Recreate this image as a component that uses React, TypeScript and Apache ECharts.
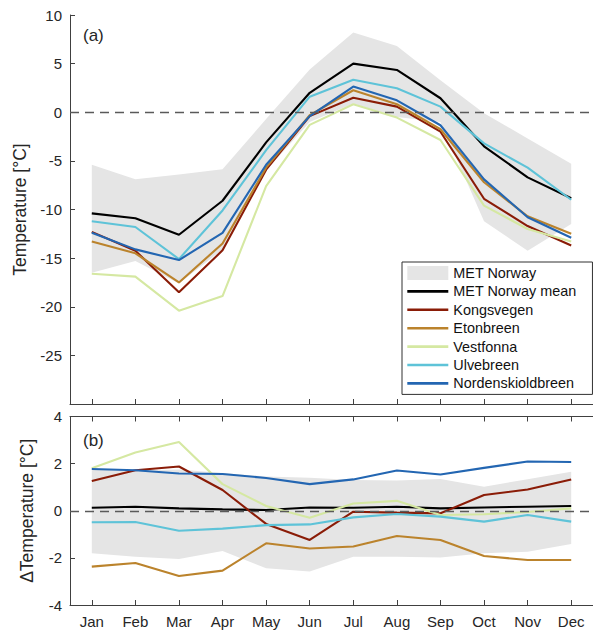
import React, { useEffect, useRef } from "react";
import * as echarts from "echarts";

const months = ["Jan", "Feb", "Mar", "Apr", "May", "Jun", "Jul", "Aug", "Sep", "Oct", "Nov", "Dec"];

// Panel (a): temperature [°C]
const metUpperA = [-5.4, -6.9, -6.4, -5.85, -0.7, 4.4, 8.2, 6.8, 3.3, -0.1, -2.7, -5.3];
const metLowerA = [-16.5, -15.3, -17.6, -14.1, -6.0, -1.0, 0.9, -0.5, -1.0, -11.2, -14.25, -11.5];
const metMeanA = [-10.4, -10.9, -12.6, -9.1, -3.1, 2.0, 5.0, 4.35, 1.44, -3.5, -6.7, -8.85];
const kongsvegenA = [-12.3, -14.25, -18.5, -14.2, -5.9, -0.4, 1.5, 0.58, -2.0, -8.9, -11.7, -13.7];
const etonbreenA = [-13.3, -14.5, -17.5, -13.5, -5.7, -0.3, 2.26, 0.82, -1.75, -7.2, -10.7, -12.5];
const vestfonnaA = [-16.6, -16.9, -20.4, -18.9, -7.6, -1.3, 0.82, -0.55, -2.85, -9.6, -12.0, -13.3];
const ulvebreenA = [-11.2, -11.8, -15.1, -10.1, -3.9, 1.6, 3.35, 2.47, 0.58, -3.2, -5.7, -9.0];
const nordenA = [-12.4, -14.1, -15.2, -12.4, -5.4, -0.4, 2.64, 1.23, -1.34, -6.9, -10.8, -12.9];

// Panel (b): ΔTemperature [°C]
const metUpperB = [1.75, 1.7, 1.75, 1.6, 1.45, 1.4, 1.3, 1.28, 1.35, 1.02, 1.34, 1.65];
const metLowerB = [-1.8, -1.95, -2.05, -1.71, -2.44, -2.58, -1.95, -1.95, -1.98, -1.8, -1.74, -1.41];
const metMeanB = [0.13, 0.17, 0.1, 0.06, 0.03, 0.14, 0.13, 0.17, 0.1, 0.14, 0.17, 0.2];
const kongsvegenB = [1.26, 1.72, 1.88, 0.88, -0.56, -1.24, -0.04, -0.08, -0.11, 0.67, 0.9, 1.33];
const etonbreenB = [-2.37, -2.22, -2.77, -2.54, -1.38, -1.6, -1.52, -1.07, -1.24, -1.92, -2.09, -2.09];
const vestfonnaB = [1.8, 2.47, 2.92, 1.13, 0.2, -0.3, 0.31, 0.42, -0.18, -0.15, -0.05, 0.1];
const ulvebreenB = [-0.49, -0.48, -0.85, -0.76, -0.61, -0.58, -0.28, -0.14, -0.25, -0.46, -0.18, -0.46];
const nordenB = [1.77, 1.72, 1.58, 1.56, 1.39, 1.13, 1.33, 1.71, 1.54, 1.82, 2.09, 2.07];

const yTicksA = [10, 5, 0, -5, -10, -15, -20, -25];
const yTicksB = [4, 2, 0, -2, -4];

const FONT = "'Liberation Sans', Arial, Helvetica, sans-serif";
const TXT = "#262626";
const AXC = "#404040";
const BAND = "#e5e5e5";

const lineDefs = [
  { name: "MET Norway mean", color: "#000000", a: metMeanA, b: metMeanB },
  { name: "Kongsvegen", color: "#8a1c07", a: kongsvegenA, b: kongsvegenB },
  { name: "Etonbreen", color: "#bb832c", a: etonbreenA, b: etonbreenB },
  { name: "Vestfonna", color: "#d5e8a2", a: vestfonnaA, b: vestfonnaB },
  { name: "Ulvebreen", color: "#5ec3d8", a: ulvebreenA, b: ulvebreenB },
  { name: "Nordenskioldbreen", color: "#2366b2", a: nordenA, b: nordenB },
];

function zeroLine() {
  return {
    silent: true,
    symbol: ["none", "none"],
    label: { show: false },
    lineStyle: { color: "#5a5a5a", width: 1.4, type: [9, 6] },
    data: [{ yAxis: 0 }],
  };
}

function catAxis(gridIndex: number, position: string, showLabels: boolean) {
  return {
    type: "category",
    gridIndex,
    position,
    data: months,
    boundaryGap: true,
    axisLine: { show: true, onZero: false, lineStyle: { color: AXC, width: 1 } },
    axisTick: { show: true, inside: true, length: 5, alignWithLabel: true, interval: 0, lineStyle: { color: AXC } },
    axisLabel: { show: showLabels, interval: 0, margin: 9, color: TXT, fontSize: 15, fontFamily: FONT },
    splitLine: { show: false },
  };
}

function valAxis(gridIndex: number, min: number, max: number, interval: number, ticks: number[], name: string) {
  return {
    type: "value",
    gridIndex,
    min,
    max,
    interval,
    name,
    nameLocation: "middle",
    nameGap: 34,
    nameTextStyle: { color: TXT, fontSize: 17.5, fontFamily: FONT },
    axisLine: { show: true, onZero: false, lineStyle: { color: AXC, width: 1 } },
    axisTick: { show: true, inside: true, length: 5, lineStyle: { color: AXC } },
    axisLabel: {
      color: TXT,
      fontSize: 15,
      fontFamily: FONT,
      margin: 8,
      formatter: (v: number) => (ticks.indexOf(v) >= 0 ? String(v) : ""),
    },
    splitLine: { show: false },
  };
}

function bandSeries(lower: number[], upper: number[], xIdx: number, yIdx: number, stackId: string) {
  return [
    {
      name: "band-lower-" + stackId,
      type: "line",
      xAxisIndex: xIdx,
      yAxisIndex: yIdx,
      data: lower,
      stack: stackId,
      stackStrategy: "all",
      symbol: "none",
      silent: true,
      lineStyle: { width: 0 },
      z: 1,
      markLine: zeroLine(),
    },
    {
      name: "MET Norway",
      type: "line",
      xAxisIndex: xIdx,
      yAxisIndex: yIdx,
      data: upper.map((u, i) => u - lower[i]),
      stack: stackId,
      stackStrategy: "all",
      symbol: "none",
      silent: true,
      color: BAND,
      itemStyle: { color: BAND },
      lineStyle: { width: 0 },
      areaStyle: { color: BAND, opacity: 1 },
      z: 1,
    },
  ];
}

export default function App() {
  const ref = useRef<HTMLDivElement>(null);
  useEffect(() => {
    if (!ref.current) return;
    const chart = echarts.init(ref.current, null, { renderer: "svg" });
    const series: any[] = [];
    series.push(...bandSeries(metLowerA, metUpperA, 0, 0, "a"));
    series.push(...bandSeries(metLowerB, metUpperB, 2, 1, "b"));
    lineDefs.forEach((d) => {
      series.push({
        name: d.name,
        type: "line",
        xAxisIndex: 0,
        yAxisIndex: 0,
        data: d.a,
        symbol: "none",
        color: d.color,
        lineStyle: { color: d.color, width: 2.1 },
        z: 3,
      });
      series.push({
        name: d.name,
        type: "line",
        xAxisIndex: 2,
        yAxisIndex: 1,
        data: d.b,
        symbol: "none",
        color: d.color,
        lineStyle: { color: d.color, width: 2.1 },
        z: 3,
      });
    });

    chart.setOption({
      animation: false,
      backgroundColor: "#ffffff",
      textStyle: { fontFamily: FONT },
      grid: [
        { left: 70, top: 15, width: 533, height: 389 },
        { left: 70, top: 416.5, width: 533, height: 188.5 },
      ],
      xAxis: [
        catAxis(0, "bottom", false),
        catAxis(1, "top", false),
        catAxis(1, "bottom", true),
      ],
      yAxis: [
        valAxis(0, -30, 10, 5, yTicksA, "Temperature [°C]"),
        valAxis(1, -4, 4, 2, yTicksB, "ΔTemperature [°C]"),
      ],
      legend: {
        left: 402,
        top: 262,
        orient: "vertical",
        itemWidth: 41,
        itemHeight: 14,
        itemGap: 4.4,
        padding: [4, 16, 4, 4],
        backgroundColor: "#ffffff",
        borderColor: "#303030",
        borderWidth: 1,
        selectedMode: false,
        textStyle: { color: "#111", fontSize: 14.4, fontFamily: FONT },
        data: [
          { name: "MET Norway", icon: "rect", itemStyle: { color: BAND, borderWidth: 0, opacity: 1 } },
          ...lineDefs.map((d) => ({
            name: d.name,
            itemStyle: { opacity: 0, borderWidth: 0 },
            lineStyle: { color: d.color, width: 2.6, opacity: 1 },
          })),
        ],
      },
      graphic: [
        { type: "text", left: 83, top: 27, style: { text: "(a)", fontSize: 17, fontFamily: FONT, fill: TXT } },
        { type: "text", left: 83, top: 432, style: { text: "(b)", fontSize: 17, fontFamily: FONT, fill: TXT } },
      ],
      series,
    });
    return () => chart.dispose();
  }, []);
  return (
    <div style={{ position: "absolute", left: 0, top: 0, width: 593, height: 634, background: "#fff" }}>
      <div ref={ref} style={{ width: 593, height: 634 }} />
    </div>
  );
}
